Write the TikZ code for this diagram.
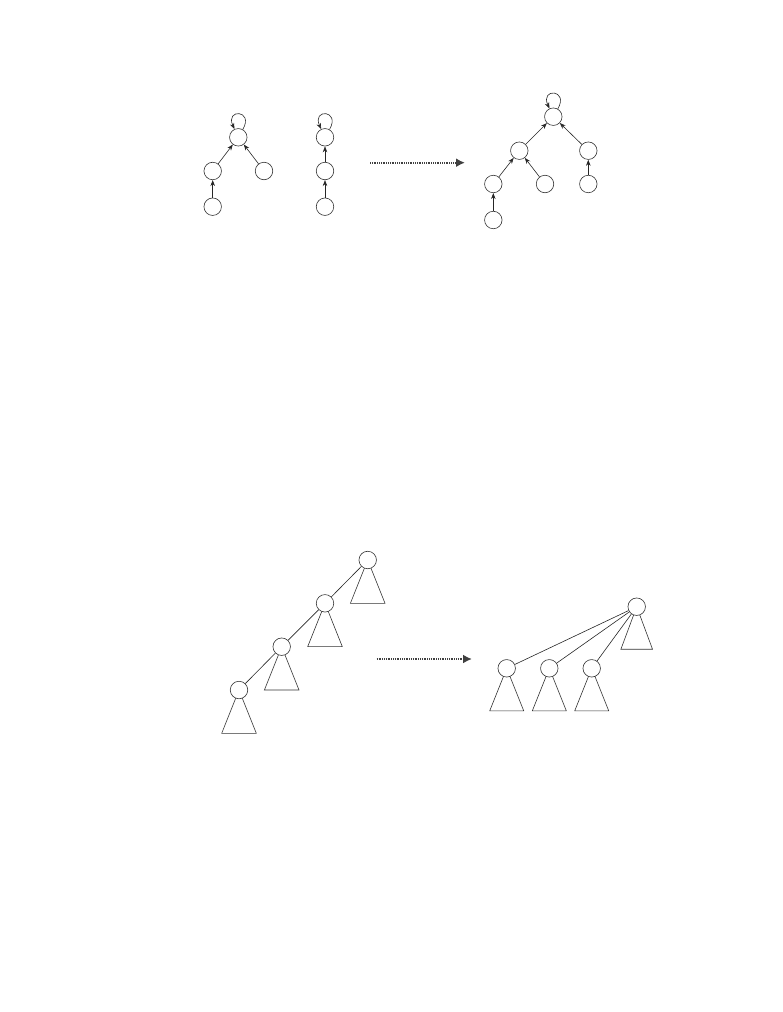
\documentclass[tikz,border=0pt]{standalone}
\usetikzlibrary{arrows.meta}
\begin{document}
\begin{tikzpicture}[x=1pt,y=-1pt,
  vtx/.style={circle,draw,fill=white,minimum size=17.5pt,inner sep=0pt,line width=0.6pt,draw=black!80},
  par/.style={-{Stealth[length=6pt,width=4.5pt]},line width=0.6pt,draw=black!85},
  selfloop/.style={-{Stealth[length=6pt,width=4.5pt]},line width=0.6pt,draw=black!85,out=60,in=115,looseness=7,min distance=13pt},
  link/.style={line width=0.6pt,draw=black!85},
  sub/.style={line width=0.6pt,draw=black!80},
  trans/.style={dash pattern=on 1pt off 0.8pt,line width=1.8pt,-{Latex[length=9pt,width=9pt]},draw=black!75}]
\useasboundingbox (0,0) rectangle (782,1012);
% ---- top: left forest
\node[vtx] (a) at (238.3,137.3) {};
\node[vtx] (b) at (212.7,171) {};
\node[vtx] (c) at (264,171) {};
\node[vtx] (d) at (212.7,206.7) {};
\draw[par] (b) -- (a);
\draw[par] (c) -- (a);
\draw[par] (d) -- (b);
\draw[selfloop] (a) to (a);
\node[vtx] (e) at (325,137.3) {};
\node[vtx] (f) at (325,171) {};
\node[vtx] (g) at (325,206.7) {};
\draw[par] (f) -- (e);
\draw[par] (g) -- (f);
\draw[selfloop] (e) to (e);
% arrow
\coordinate (t1) at (370,162.7);
\coordinate (t2) at (465,162.7);
\draw[trans] (t1) -- (t2);
% ---- top: merged tree
\node[vtx] (r) at (553.3,116.7) {};
\node[vtx] (r1) at (519.3,150.7) {};
\node[vtx] (r2) at (588.3,150.7) {};
\node[vtx] (r11) at (493.3,184) {};
\node[vtx] (r12) at (545,184) {};
\node[vtx] (r21) at (588.3,184) {};
\node[vtx] (r111) at (493.3,220) {};
\draw[par] (r1) -- (r);
\draw[par] (r2) -- (r);
\draw[par] (r11) -- (r1);
\draw[par] (r12) -- (r1);
\draw[par] (r21) -- (r2);
\draw[par] (r111) -- (r11);
\draw[selfloop] (r) to (r);
% ---- bottom: path
\foreach \n/\x/\y in {p1/367.7/560, p2/325/603.3, p3/281.7/646.7, p4/239/690}{
  \draw[sub] (\x,\y) -- (\x-17.3,\y+43.3) -- (\x+17.3,\y+43.3) -- cycle;
  \node[vtx] (\n) at (\x,\y) {};
}
\draw[link] (p1) -- (p2);
\draw[link] (p2) -- (p3);
\draw[link] (p3) -- (p4);
% arrow
\coordinate (u1) at (376.7,659);
\coordinate (u2) at (472,659);
\draw[trans] (u1) -- (u2);
% ---- bottom: compressed
\foreach \n/\x/\y/\w in {q0/636.7/606.7/15.8, q1/506.7/668.3/17, q2/549.3/668.3/17, q3/591.7/668.3/17}{
  \draw[sub] (\x,\y) -- (\x-\w,\y+42.5) -- (\x+\w,\y+42.5) -- cycle;
  \node[vtx] (\n) at (\x,\y) {};
}
\draw[link] (q0) -- (q1);
\draw[link] (q0) -- (q2);
\draw[link] (q0) -- (q3);
\end{tikzpicture}
\end{document}
